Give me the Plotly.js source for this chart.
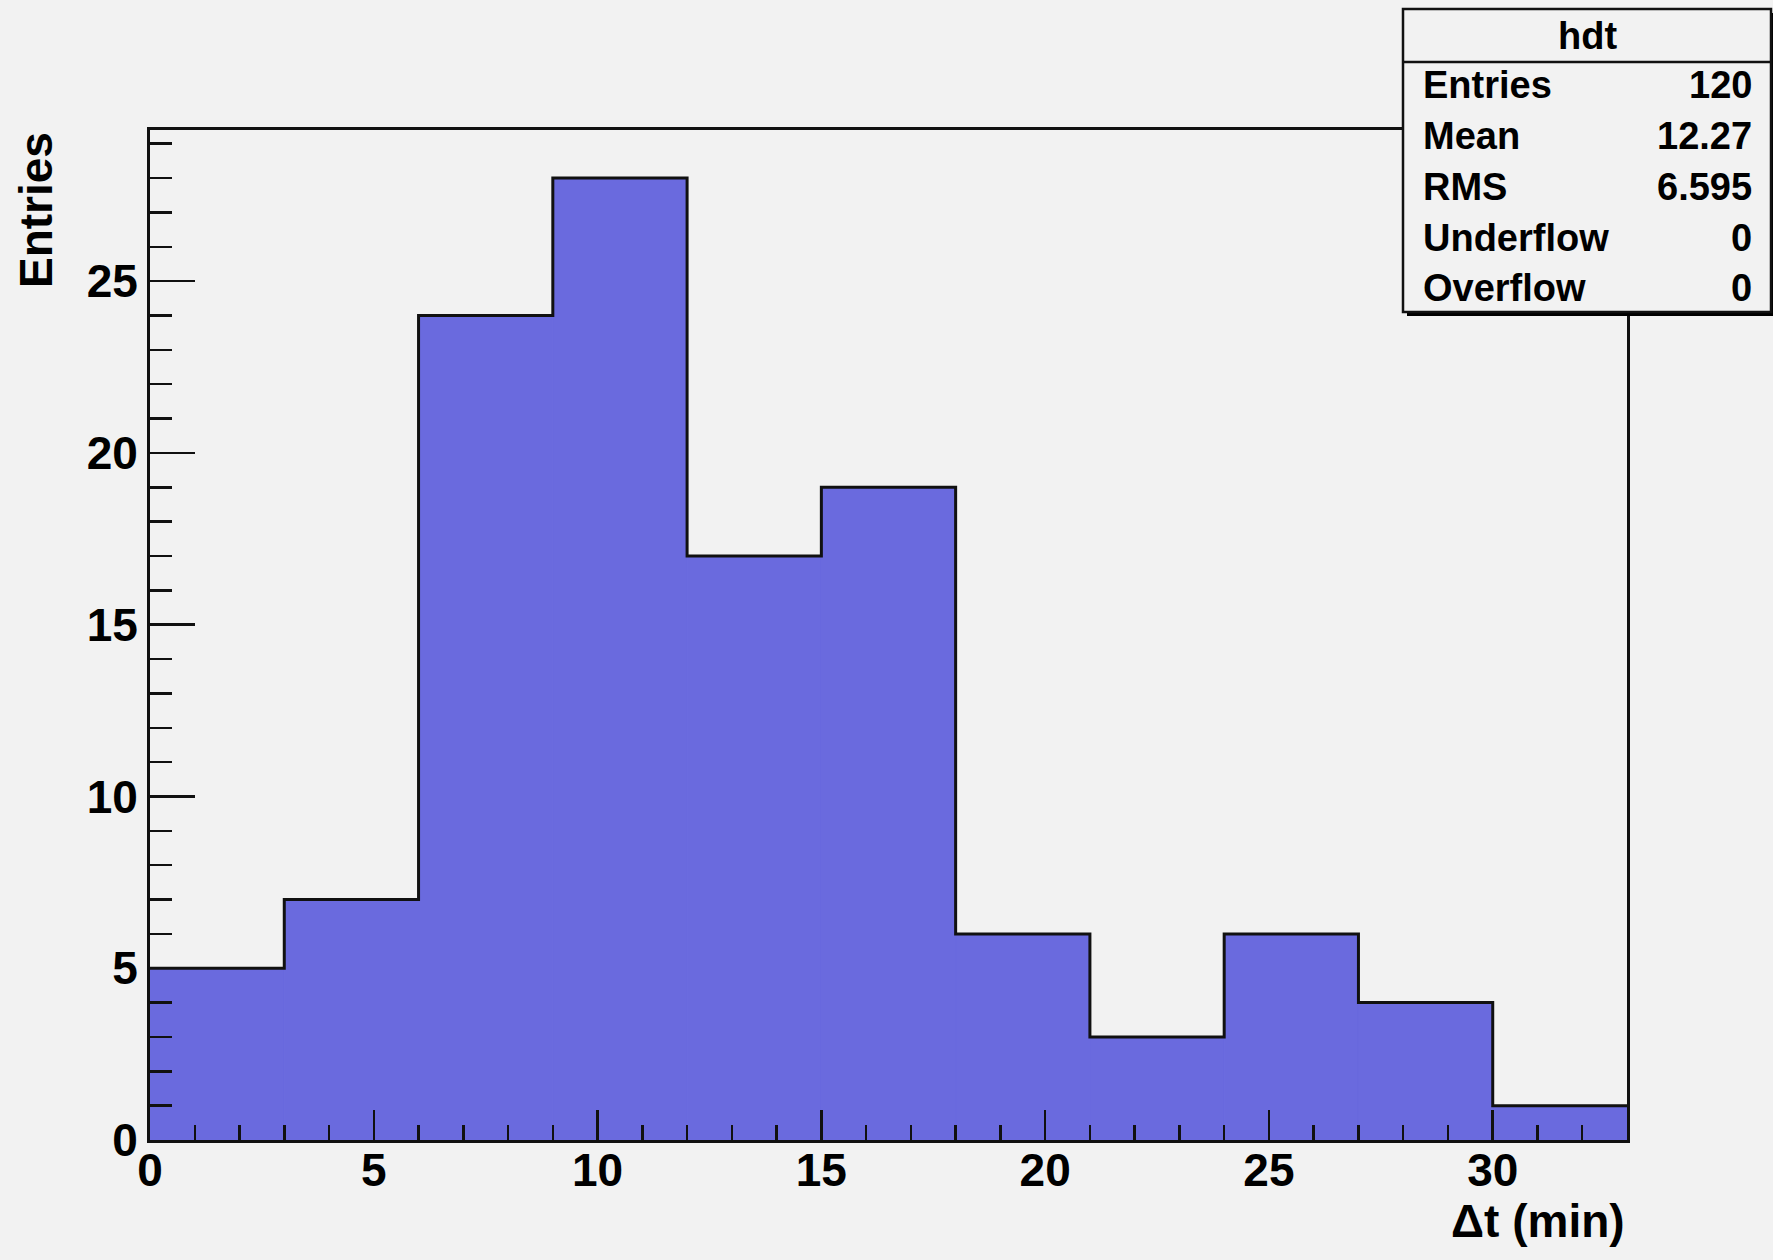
<!DOCTYPE html>
<html>
<head>
<meta charset="utf-8">
<script src="https://cdn.plot.ly/plotly-3.0.1.min.js"></script>
<style>
  html, body { margin: 0; padding: 0; background: #f2f2f2; }
  #chart { width: 1773px; height: 1260px; }
</style>
</head>
<body>
<div id="chart"></div>
<script>
// ---- data ----
const binLow = [0, 3, 6, 9, 12, 15, 18, 21, 24, 27, 30];
const binWidth = 3;
const counts = [5, 7, 24, 28, 17, 19, 6, 3, 6, 4, 1];
const histName = "hdt";
const statsLabels = ["Entries", "Mean", "RMS", "Underflow", "Overflow"];
const statsValues = ["120", "12.27", "6.595", "0", "0"];
const xTitle = "\u0394t (min)";
const yTitle = "Entries";

// ---- styling ----
const FONT = "Liberation Sans, Arial, Helvetica, sans-serif";
const fillColor = "#6a6ade";

const stepX = binLow.concat([binLow[binLow.length - 1] + binWidth]);
const stepY = counts.concat([counts[counts.length - 1]]);

const traces = [
  {
    type: "bar",
    x: binLow,
    y: counts,
    width: binLow.map(() => binWidth),
    offset: 0,
    marker: { color: fillColor, line: { width: 1, color: fillColor } },
    hoverinfo: "x+y",
    showlegend: false
  },
  {
    type: "scatter",
    mode: "lines",
    x: stepX,
    y: stepY,
    line: { shape: "hv", color: "#111", width: 3 },
    hoverinfo: "skip",
    showlegend: false
  }
];

const W = 1773, H = 1260;
const mL = 150, mR = 146, mT = 130, mB = 120;
const pw = W - mL - mR, ph = H - mT - mB;
const px2x = p => (p - mL) / pw;
const py2y = p => (H - mB - p) / ph;

// stats box geometry (pixels)
const boxL = 1403, boxR = 1771, boxT = 9, boxB = 312, sepY = 62;
const rowY = [85, 136, 187, 238, 288];

const shapes = [
  // shadow
  { type: "rect", xref: "paper", yref: "paper",
    x0: px2x(boxL + 4), x1: px2x(boxR + 4), y0: py2y(boxB + 4), y1: py2y(boxT + 4),
    fillcolor: "#000", line: { width: 0 }, layer: "above" },
  // box
  { type: "rect", xref: "paper", yref: "paper",
    x0: px2x(boxL), x1: px2x(boxR), y0: py2y(boxB), y1: py2y(boxT),
    fillcolor: "#f2f2f2", line: { color: "#111", width: 2.5 }, layer: "above" },
  // separator under title
  { type: "line", xref: "paper", yref: "paper",
    x0: px2x(boxL), x1: px2x(boxR), y0: py2y(sepY), y1: py2y(sepY),
    line: { color: "#111", width: 2.5 }, layer: "above" }
];

const annotations = [
  { text: histName, xref: "paper", yref: "paper",
    x: px2x((boxL + boxR) / 2), y: py2y(36), xanchor: "center", yanchor: "middle",
    showarrow: false, font: { family: FONT, size: 38, color: "#000", weight: "bold" } },
  // axis titles
  { text: yTitle, xref: "paper", yref: "paper", x: px2x(36), y: 1,
    xanchor: "center", yanchor: "top", textangle: -90, showarrow: false,
    font: { family: FONT, size: 46, color: "#000", weight: "bold" } },
  { text: xTitle, xref: "paper", yref: "paper", x: 1, y: py2y(1221),
    xanchor: "right", yanchor: "middle", showarrow: false,
    font: { family: FONT, size: 46, color: "#000", weight: "bold" } }
];
statsLabels.forEach((lab, i) => {
  annotations.push({ text: lab, xref: "paper", yref: "paper",
    x: px2x(1421), y: py2y(rowY[i]), xanchor: "left", yanchor: "middle",
    showarrow: false, font: { family: FONT, size: 38, color: "#000", weight: "bold" } });
  annotations.push({ text: statsValues[i], xref: "paper", yref: "paper",
    x: px2x(1754), y: py2y(rowY[i]), xanchor: "right", yanchor: "middle",
    showarrow: false, font: { family: FONT, size: 38, color: "#000", weight: "bold" } });
});

const axisCommon = {
  showgrid: false, zeroline: false,
  showline: true, mirror: true, linecolor: "#111", linewidth: 3,
  ticks: "inside", tickcolor: "#111", tickwidth: 2.5,
  tickfont: { family: FONT, size: 46, color: "#000", weight: "bold" },
  fixedrange: true
};

const layout = {
  width: W, height: H,
  margin: { l: mL, r: mR, t: mT, b: mB, pad: 0 },
  paper_bgcolor: "#f2f2f2",
  plot_bgcolor: "#f2f2f2",
  showlegend: false,
  xaxis: Object.assign({}, axisCommon, {
    range: [0, 33], tick0: 0, dtick: 5, ticklen: 30, ticklabelstandoff: -12,
    minor: { ticks: "inside", dtick: 1, ticklen: 15, tickcolor: "#111", tickwidth: 2.5, showgrid: false }
  }),
  yaxis: Object.assign({}, axisCommon, {
    range: [0, 29.4], tick0: 0, dtick: 5, ticklen: 45,
    minor: { ticks: "inside", dtick: 1, ticklen: 22, tickcolor: "#111", tickwidth: 2.5, showgrid: false }
  }),
  shapes: shapes,
  annotations: annotations
};

Plotly.newPlot("chart", traces, layout, { displayModeBar: false, staticPlot: true });
</script>
</body>
</html>
